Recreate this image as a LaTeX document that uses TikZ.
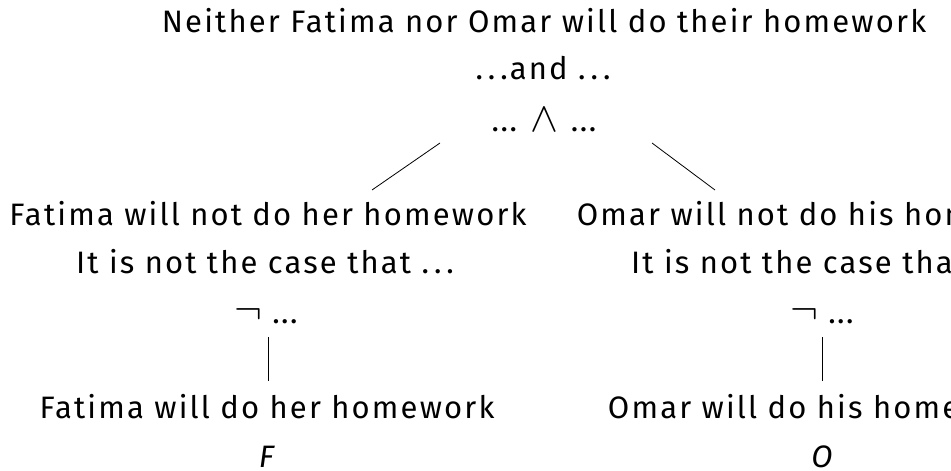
\RequirePackage{fix-cm}
\documentclass[tikz,border=0pt]{standalone}
\usepackage{fontspec}
\usepackage{graphicx}
\setmainfont[LetterSpace=7]{Fira Sans}
\newcommand\spdots{.\hspace{5pt}.\hspace{5pt}.}
\newcommand\cldots{.\hspace{1.5pt}.\hspace{1.5pt}.}
\begin{document}
\begin{tikzpicture}[x=1pt,y=-1pt,
  txt/.style={anchor=base, inner sep=0pt, font=\fontsize{31}{37}\selectfont},
  edge/.style={line width=0.8pt, black}]
\fill[white] (0,0) rectangle (951,471);
\useasboundingbox (0,0) rectangle (951,471);
% root
\node[txt] (root1) at (544,32) {Neither Fatima nor Omar will do their homework};
\node[txt] (root2) at (543,79) {\spdots\hspace{2pt}and \spdots};
\node[txt] (root3) at (544,131.7) {\cldots\hspace{13pt}\scalebox{1.35}{$\wedge$}\hspace{13pt}\cldots};
% left subtree
\node[txt] (l1) at (268,225) {Fatima will not do her homework};
\node[txt] (l2) at (265,273) {It is not the case that \spdots};
\node[txt] (l3) at (266,323) {\scalebox{1.35}{$\neg$}\hspace{10pt}\cldots};
\node[txt] (l4) at (267,418) {Fatima will do her homework};
\node[txt] (l5) at (268,467) {\textit{F}};
% right subtree
\node[txt] (r1) at (822,225) {Omar will not do his homework};
\node[txt] (r2) at (820,273) {It is not the case that \spdots};
\node[txt] (r3) at (822,323) {\scalebox{1.35}{$\neg$}\hspace{10pt}\cldots};
\node[txt] (r4) at (822,418) {Omar will do his homework};
\node[txt] (r5) at (823,467) {\textit{O}};
% connectors
\coordinate (cl1) at (440,143);
\coordinate (cl2) at (372,190);
\coordinate (cr1) at (652,143);
\coordinate (cr2) at (715,190);
\coordinate (vl1) at (268,337);
\coordinate (vl2) at (268,381);
\coordinate (vr1) at (822,337);
\coordinate (vr2) at (822,381);
\draw[edge] (cl1) -- (cl2);
\draw[edge] (cr1) -- (cr2);
\draw[edge] (vl1) -- (vl2);
\draw[edge] (vr1) -- (vr2);
\end{tikzpicture}
\end{document}
